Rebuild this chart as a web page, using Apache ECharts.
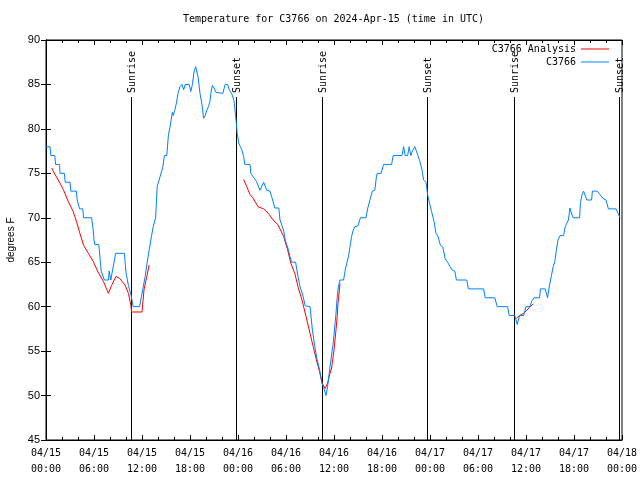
<!DOCTYPE html>
<html>
<head>
<meta charset="utf-8">
<script src="https://cdn.jsdelivr.net/npm/echarts@6/dist/echarts.min.js"></script>
<style>html,body{margin:0;padding:0;background:#fff}#c{width:640px;height:480px}</style>
</head>
<body>
<div id="c"></div>
<script>
// time in hours since 2024-04-15 00:00 UTC
var xTickLabels = ['04/15\n00:00','04/15\n06:00','04/15\n12:00','04/15\n18:00','04/16\n00:00','04/16\n06:00','04/16\n12:00','04/16\n18:00','04/17\n00:00','04/17\n06:00','04/17\n12:00','04/17\n18:00','04/18\n00:00'];
var yTicks = [45, 50, 55, 60, 65, 70, 75, 80, 85, 90];

var stationName = 'C3766';
var analysisName = 'C3766 Analysis';

var stationObs = [
[0,78],[0.5,78],[0.6,77],[1.1,77],[1.2,76],[1.7,76],[1.75,75],[2.3,75],[2.4,74],[3.0,74],[3.1,73],[3.8,73],[3.9,72],[4.1,72],[4.2,71],[4.6,71],[4.7,70],[5.7,70],[5.9,68.6],[6.0,67.5],[6.1,67],[6.6,67],[6.8,65],[6.9,64],[7.3,63],[7.8,63],[7.9,64],[8.1,63],[8.3,63],[8.7,66],[9.8,66],[10.0,63.8],[10.3,62.4],[10.6,61.4],[10.9,60],[11.7,60],[11.9,61],[12.4,63.4],[12.6,64.7],[12.9,66.4],[13.2,68],[13.4,69],[13.7,70],[13.9,73.5],[14.25,74.6],[14.6,75.7],[14.8,77],[15.1,77],[15.3,79.3],[15.5,80.2],[15.8,81.9],[15.9,81.5],[16.1,82.1],[16.3,82.9],[16.5,84],[16.75,84.75],[17.0,85],[17.2,84.4],[17.4,85],[17.9,85],[18.1,84.2],[18.3,85],[18.5,86.4],[18.7,87],[18.9,87],[19.0,85.9],[19.25,84],[19.5,82.7],[19.7,81.2],[19.9,81.5],[20.1,82.1],[20.3,82.5],[20.5,83.1],[20.6,84],[20.8,84.9],[21.0,84.6],[21.25,84.1],[22.1,84],[22.4,85],[22.7,85],[22.9,84.4],[23.2,84],[23.5,83.2],[23.7,81.4],[23.8,80.6],[23.9,79.5],[24.1,78.4],[24.3,78],[24.5,77.6],[24.7,76.9],[24.85,76],[25.5,76],[25.6,75],[26.3,74.1],[26.75,73.1],[27.0,73.1],[27.2,74],[27.6,73.1],[28.0,73],[28.2,72.4],[28.6,71.1],[29.1,71.1],[29.25,69.75],[29.7,68.6],[29.9,67.5],[30.3,66.4],[30.5,65.6],[30.7,65],[31.2,65],[31.5,63.4],[31.75,62.25],[32.1,61.3],[32.4,60.1],[33.0,60],[33.3,57.4],[33.6,55.5],[33.9,54],[34.2,52.9],[34.5,51.4],[34.7,50.9],[35.0,50],[35.2,51],[35.5,53.25],[35.9,55.9],[36.25,59.25],[36.4,61.1],[36.55,62.25],[36.75,63],[37.2,63],[37.4,64.1],[37.6,64.9],[37.8,65.6],[38.0,66.75],[38.2,67.9],[38.4,68.6],[38.6,69],[39.0,69.1],[39.3,70],[40.0,70],[40.2,71],[40.4,71.2],[40.6,72.4],[40.8,73],[41.1,73.1],[41.3,74.6],[41.4,75],[41.9,75],[42.2,76],[43.2,76],[43.4,77],[44.5,77],[44.7,78],[44.9,77],[45.2,77],[45.4,78],[45.6,77],[45.8,77.5],[46.1,78],[46.3,77.5],[46.5,77],[46.75,76.3],[47.0,75.4],[47.2,74.25],[47.5,74],[47.7,72.6],[47.9,71.8],[48.2,70.7],[48.5,69.6],[48.75,68.25],[49.0,67.9],[49.3,66.9],[49.6,66.7],[49.9,65.4],[50.2,65],[50.5,64.5],[50.8,64.1],[51.1,64],[51.3,63],[52.6,63],[52.8,62],[54.7,62],[54.9,61],[56.1,61],[56.4,60],[57.7,60],[57.9,59],[58.6,59],[58.9,58],[59.2,59],[59.7,59],[60.0,60],[60.5,60],[60.7,60.6],[61.0,61],[61.7,61],[61.8,62],[62.4,62],[62.7,61],[62.9,62.2],[63.2,63.6],[63.4,64.5],[63.6,65.1],[63.8,66.4],[64.0,67.5],[64.25,68],[64.7,68],[64.9,69],[65.1,69.1],[65.3,69.75],[65.5,71.1],[65.6,70.7],[65.9,70],[66.7,70],[66.8,71.6],[67.0,72.6],[67.2,73],[67.4,73],[67.6,72],[68.2,72],[68.3,73],[68.9,73],[69.25,72.6],[69.6,72.2],[70.0,72],[70.3,71],[71.25,71],[71.5,70.5],[71.75,70]
];

var analysis1 = [
[0.7,75.6],[0.85,75.5],[1.3,74.6],[1.75,73.9],[2.2,73.1],[2.8,71.8],[3.4,70.7],[3.8,69.6],[4.25,68.2],[4.7,66.9],[5.3,66],[5.9,65.1],[6.5,63.9],[7.2,62.8],[7.8,61.5],[8.2,62.4],[8.75,63.4],[9.2,63.2],[9.9,62.4],[10.3,61.5],[10.6,60.2],[10.7,59.4],[12.0,59.4],[12.25,61.9],[12.6,63.4],[12.9,64.7]
];
var analysis2 = [
[24.7,74.3],[25.1,73.5],[25.5,72.6],[25.9,72.2],[26.5,71.25],[27.2,71],[27.8,70.5],[28.4,69.75],[29.0,69.2],[29.7,67.9],[30.2,66.4],[30.6,64.9],[31.1,63.75],[31.5,62.25],[32.0,60.75],[32.5,58.9],[33.0,57],[33.4,55.5],[33.8,54],[34.2,52.7],[34.5,51.4],[34.9,50.8],[35.2,51.4],[35.5,52.5],[35.7,53.1],[36.0,55.1],[36.25,57.4],[36.4,58.9],[36.5,60.4],[36.75,62.6]
];
var analysis3 = [
[58.8,58.7],[59.2,59],[59.7,59.25],[60.1,59.6],[60.5,60],[60.9,60.3]
];

var sunTimes = [10.66, 23.71, 34.54, 47.66, 58.56, 71.63];
var sunLabels = ['Sunrise','Sunset','Sunrise','Sunset','Sunrise','Sunset'];

var MONO = 'DejaVu Sans Mono';
var SANS = 'Liberation Sans';
var RED = '#ff0000', BLUE = '#0080ff';

var chart = echarts.init(document.getElementById('c'), null, {renderer:'canvas'});

function redSeries(d){
  return {name: analysisName, type:'line', data:d, showSymbol:false, symbol:'none',
    lineStyle:{color:RED, width:1}, itemStyle:{color:RED}, z:3, silent:true};
}

var option = {
  animation:false,
  backgroundColor:'#fff',
  title:{text:'Temperature for C3766 on 2024-Apr-15 (time in UTC)', left:183, top:14, padding:0,
    textStyle:{fontFamily:MONO, fontSize:10, fontWeight:'normal', color:'#000'}},
  legend:{data:[analysisName, stationName], orient:'vertical', right:31, top:43, padding:0,
    align:'right', itemGap:1, itemWidth:28, itemHeight:1, icon:'rect',
    textStyle:{fontFamily:MONO, fontSize:10, color:'#000', lineHeight:12}},
  grid:{left:46, right:18, top:40, bottom:40, show:true, borderColor:'#000', borderWidth:1,
    containLabel:false, outerBoundsMode:'none'},
  xAxis:[{
    type:'value', min:0, max:72, interval:6, position:'bottom',
    axisLine:{show:true, lineStyle:{color:'#000', width:1}},
    axisTick:{show:true, inside:true, length:5, lineStyle:{color:'#000'}},
    minorTick:{show:true, splitNumber:3, length:3, lineStyle:{color:'#000'}},
    splitLine:{show:false},
    axisLabel:{margin:5, fontFamily:MONO, fontSize:10, color:'#000', lineHeight:16,
      hideOverlap:false, showMinLabel:true, showMaxLabel:true,
      formatter:function(v){ return xTickLabels[Math.round(v/6)]; }}
  },{
    type:'value', min:0, max:72, interval:6, position:'top',
    axisLine:{show:true, lineStyle:{color:'#000', width:1}},
    axisTick:{show:true, inside:true, length:5, lineStyle:{color:'#000'}},
    minorTick:{show:true, splitNumber:3, length:3, lineStyle:{color:'#000'}},
    splitLine:{show:false}, axisLabel:{show:false}
  }],
  yAxis:[{
    type:'value', min:yTicks[0], max:yTicks[yTicks.length-1], interval:5, position:'left',
    name:'degrees F', nameLocation:'middle', nameGap:30, nameRotate:90, nameMoveOverlap:false,
    nameTextStyle:{fontFamily:SANS, fontSize:10, color:'#000'},
    axisLine:{show:true, lineStyle:{color:'#000', width:1}},
    axisTick:{show:true, inside:true, length:5, lineStyle:{color:'#000'}},
    splitLine:{show:false},
    axisLabel:{margin:6, fontFamily:SANS, fontSize:11, color:'#000'}
  },{
    type:'value', min:yTicks[0], max:yTicks[yTicks.length-1], interval:5, position:'right',
    axisLine:{show:true, lineStyle:{color:'#000', width:1}},
    axisTick:{show:true, inside:true, length:5, lineStyle:{color:'#000'}},
    splitLine:{show:false}, axisLabel:{show:false}
  }],
  series:[
    redSeries(analysis1), redSeries(analysis2), redSeries(analysis3),
    {name:stationName, type:'line', data:stationObs, showSymbol:false, symbol:'none',
      lineStyle:{color:BLUE, width:1}, itemStyle:{color:BLUE}, z:4, silent:true},
    {type:'custom', name:'sun', silent:true, clip:false, z:2,
      data:sunTimes.map(function(t,i){ return [t, i]; }),
      encode:{x:0},
      renderItem:function(params, api){
        var t = api.value(0);
        var i = api.value(1);
        var bottom = api.coord([t, yTicks[0]]);
        var top = params.coordSys.y;
        var x = Math.round(bottom[0]) + 0.5;
        return {type:'group', children:[
          {type:'line', shape:{x1:x, y1:top+57, x2:x, y2:bottom[1]},
            style:{stroke:'#000', lineWidth:1}},
          {type:'text', x:x+1, y:top+53, rotation:Math.PI/2,
            style:{text:sunLabels[i], fontFamily:MONO, fontSize:10, fill:'#000',
              align:'left', verticalAlign:'middle'}}
        ]};
      }
    }
  ]
};
chart.setOption(option);
</script>
</body>
</html>
